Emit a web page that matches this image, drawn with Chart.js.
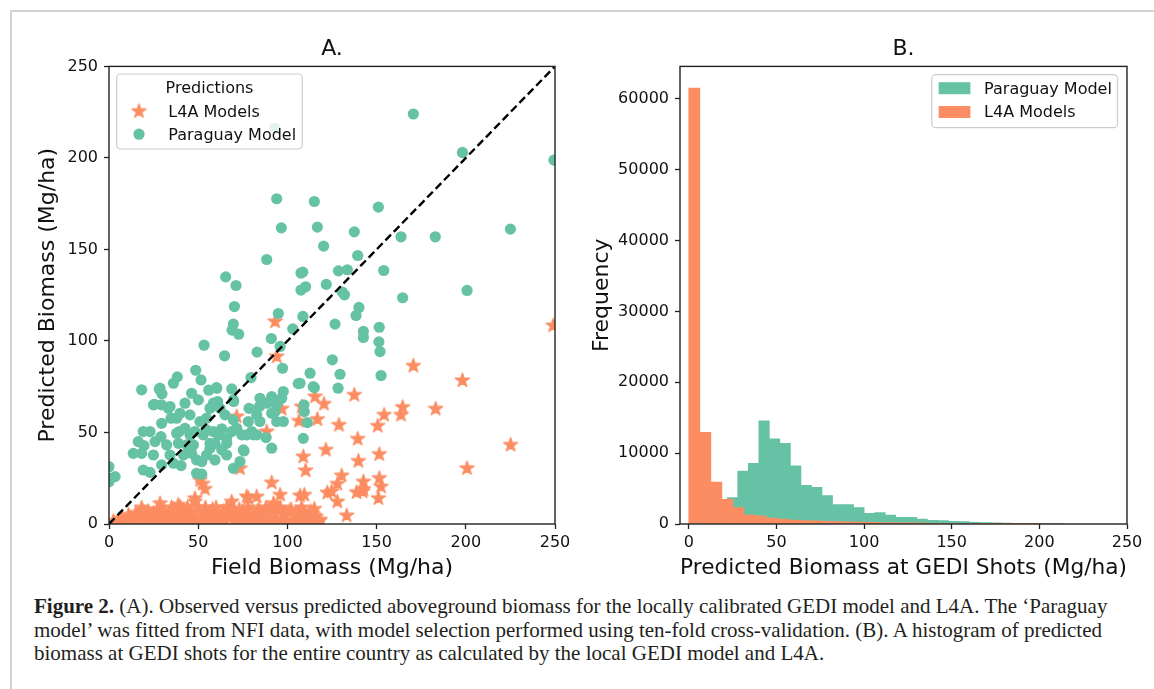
<!DOCTYPE html>
<html>
<head>
<meta charset="utf-8">
<title>Figure 2</title>
<script src="https://cdn.jsdelivr.net/npm/chart.js"></script>
<style>
  html, body { margin: 0; padding: 0; background: #fff; }
  body { width: 1154px; height: 689px; position: relative; overflow: hidden; }
  #frame { position: absolute; left: 10px; top: 10px; width: 1200px; height: 700px;
    border-top: 2px solid #d2d2d2; border-left: 2px solid #d2d2d2; }
  #chartA { position: absolute; left: 0; top: 0; }
  #chartB { position: absolute; left: 577px; top: 0; }
  #caption { position: absolute; left: 34px; top: 595px; font-family: "Liberation Serif", serif;
    font-size: 18px; line-height: 23.5px; color: #231f20; }
  #caption .ln { width: max-content; white-space: nowrap; }
</style>
</head>
<body>
<div id="frame"></div>
<canvas id="chartA" width="577" height="590"></canvas>
<canvas id="chartB" width="577" height="590"></canvas>
<div id="caption">
  <div class="ln" id="ln1"><b>Figure 2.</b> (A). Observed versus predicted aboveground biomass for the locally calibrated GEDI model and L4A. The ‘Paraguay</div>
  <div class="ln">model’ was fitted from NFI data, with model selection performed using ten-fold cross-validation. (B). A histogram of predicted</div>
  <div class="ln">biomass at GEDI shots for the entire country as calculated by the local GEDI model and L4A.</div>
</div>
<script>
// ---- data ----
const ticksA = [0, 50, 100, 150, 200, 250];
const diagonal = [[0, 0], [250, 250]];

// Paraguay model: [field, predicted]
const paraguayPoints = [
  [93,216.3],[170.6,224],[198.1,203],[249.4,198.8],[94,177.7],[115.1,176.2],[151,173.1],[96.6,161.8],
  [116.8,162.2],[137.5,159.6],[163.7,156.9],[182.9,156.9],[225,161.1],[120.3,151.8],[88.4,144.5],[139.4,146.7],
  [65.4,135],[71.2,130.3],[107.6,137.1],[108.6,137.6],[128.6,138.3],[133.6,138.9],[154,138.5],[121.8,130.9],
  [107.6,127.8],[110.2,129.6],[130.8,126.7],[132,125.2],[164.6,123.6],[200.7,127.6],[70.3,118.8],[94.9,115],
  [140.1,118.3],[138.5,113.9],[108.7,113.4],[69.7,109.2],[69,105.9],[72.7,103.7],[126.7,109.2],[103,106.6],
  [142.6,105.2],[142.6,101.9],[151.5,107.5],[151.3,99.5],[151.9,94.2],[91,101.3],[95.9,97],[53.3,97.7],
  [64.8,91.9],[83,93.9],[97.3,85.1],[125.2,89.7],[152.5,81.1],[129.5,81.8],[112.7,82.4],[106.1,76.7],
  [115.1,74.5],[128.4,74.2],[48.6,84],[38.3,80.4],[36.1,76.9],[18.3,73.3],[28.2,73.6],[29.7,71.1],
  [51.6,78.7],[55.9,73.1],[60.2,74.5],[68.8,73.8],[46.3,71.4],[50.1,67.8],[42.6,66],[25.4,65.4],
  [34.2,64.2],[60.9,66.9],[69.9,66.9],[79.6,80],[78.5,63.2],[84.6,68.7],[91.2,69.6],[97.7,72.4],
  [84.3,64.2],[88.4,66],[94,65.1],[96.8,68.7],[109.3,65.1],[109.5,61.4],[111.2,55.4],[108.9,46.8],
  [94,56],[97.7,56],[78.1,56],[82.8,48.7],[88,47.2],[91.2,41.4],[75.7,39.9],[73.4,34.1],
  [69.7,30.4],[49.1,27.7],[52,27.2],[40.4,31.9],[19.2,29.5],[23,28.2],[13.6,38.6],[18.3,38.6],
  [23,50.5],[19.6,42.8],[25.8,45],[29.5,55],[29.1,47.7],[32.3,43.2],[34.2,37.7],[36.1,33.2],
  [38.9,44.1],[39.4,50.5],[34.8,57.8],[29.5,65.1],[24.9,65.1],[33.3,63.2],[37.9,57.8],[42.6,52.3],
  [45.4,48.7],[47.3,43.2],[46.3,38.6],[49.1,35],[52,34.1],[54.7,37.7],[56.6,41.4],[59.4,44.1],
  [61.3,48.7],[58.5,50.5],[52.8,48.7],[48.2,50.5],[51,56],[54.7,57.8],[45.4,59.6],[39.8,60.5],
  [63.2,52],[65.9,46.8],[68.8,50.5],[71.6,52.3],[74.4,48.7],[77.2,48.7],[65,59.6],[69.7,56.9],
  [62.2,63.2],[56.6,63.2],[54.7,51.4],[0,31.3],[0.6,25],[3.4,25.9],[0,23.1],[19.2,50.5],
  [16.4,45],[24.9,37.7],[29.5,32.3],[41.7,37.7],[43.5,43.2],[37.9,49.6],[59.4,35],[63.2,40.5],
  [65.9,37.7],[80,50.5],[82.8,59.6],[84.6,56],[91.2,60.5],[90.2,66.9],[80.9,48.7],[93,61.4],
  [107.1,76.9],[114.5,75],[66,44.1],[56.6,44.1],[75.3,40.5],[69.7,67.8],[58.5,66],[28.6,74.2],[60.4,74.2]
];

// L4A models: [field, predicted]
const l4aPoints = [
  [249,108.4],[93.1,110.6],[94,91.5],[170.6,86.4],[198.1,78.4],[137.5,70.5],[115.5,69.6],[120.5,65.6],
  [164.6,63.8],[163.7,59.6],[154.2,59.6],[183.1,62.9],[150.6,53.6],[116.8,57.2],[106.5,56.3],[128.9,54.1],
  [96.8,62.9],[108,64.1],[71.6,58.7],[88.4,50.5],[139.4,46.5],[121.6,40.5],[108.9,36.8],[151.5,38.1],
  [139.8,34.4],[110.2,29.2],[225.1,43.2],[200.7,30.4],[73.4,30.4],[52.5,21.9],[53.8,19.1],[51,24],
  [91.2,22.6],[130.4,26.4],[128,21.9],[142.6,23.1],[142.6,19],[151.5,25],[152.5,20.4],[138.8,17.3],
  [142.2,17.7],[124.8,17.7],[122.4,17.1],[128,12.2],[133.2,4.6],[151,14],[107.1,15.5],[109.5,15.9],
  [115.1,8.2],[18.3,8.9],[28.6,11.3],[38.8,10.4],[48.2,12.2],[48.2,14],[68.8,12.2],[77.2,15],
  [78.1,14],[82.8,14.9],[95.9,15.9],[92.2,11.3],[39.8,9.5],[36.1,8.2],[2.4,1.6],[118.3,2.2],
  [7,3],[8,0.5],[10,2],[11,5],[12,3],[14,1.5],[15,6],[16,4],[18,2],[19,7],[20,5],[21,1],
  [22,7],[23,3],[24,0.5],[25,6],[26,2],[27,8],[28,4],[29,1],[30,6],[31,7],[32,0.5],[33,3],
  [34,5],[35,9],[36,2],[37,7],[38,0.5],[39,4],[40,1],[41,8],[42,6],[43,3],[44,9],[45,2],
  [46,7],[47,0.5],[48,5],[49,1],[50,9],[51,0.5],[52,3],[53,6],[54,9],[55,2],[56,4],[57,0.5],
  [58,8],[59,1],[60,9],[61,5],[62,3],[63,0.5],[64,7],[65,2],[66,9],[67,4],[68,6],[69,8],
  [70,1],[71,3],[72,0.5],[73,8],[74,5],[75,7],[76,2],[77,4],[78,9],[79,6],[80,1],[81,0.5],
  [82,3],[83,7],[84,8],[85,2],[86,5],[87,0.5],[88,9],[89,1],[90,8],[91,4],[92,6],[93,0.5],
  [94,2],[95,8],[96,9],[97,3],[98,5],[99,0.5],[100,1],[101,7],[102,8],[103,2],[104,4],[105,0.5],
  [106,6],[107,1],[108,9],[109,3],[110,5],[111,0.5],[112,2],[113,7],[114,6],[115,1],[116,4],[117,0.3],[118,2]
];

// histogram B: bin centres and counts
const ticksBx = [0, 50, 100, 150, 200, 250];
const ticksBy = [0, 10000, 20000, 30000, 40000, 50000, 60000];
const binsL4A = [3.15, 9.45, 15.75, 22.05, 28.35, 34.65, 40.95, 47.25, 53.55, 59.85, 66.15, 72.45,
  78.75, 85.05, 91.35, 97.65, 103.95, 110.25, 116.55, 122.85, 129.15, 135.45, 141.75, 148.05,
  154.35, 160.65, 166.95, 173.25, 179.55, 185.85, 192.15, 198.45];
const countsL4A = [61500, 12950, 5900, 3490, 2330, 1300, 1150, 820, 680, 570, 490, 430,
  380, 340, 300, 270, 240, 215, 190, 170, 150, 130, 110, 95,
  80, 65, 55, 45, 35, 28, 20, 15];
const binsParaguay = [12.91, 18.92, 24.93, 30.94, 36.95, 42.96, 48.97, 54.98, 60.99, 67.0, 73.01, 79.02,
  85.03, 91.04, 97.05, 103.06, 109.07, 115.08, 121.09, 127.1, 133.11, 139.12, 145.13, 151.14,
  157.15, 163.16, 169.17, 175.18, 181.19, 187.2, 193.21, 199.22, 205.23, 211.24];
const countsParaguay = [600, 2200, 3710, 7480, 8560, 14540, 12000, 11390, 8190, 5460, 5180, 4000,
  2730, 2730, 2300, 1510, 1600, 1270, 950, 950, 700, 520, 500, 380,
  350, 250, 200, 150, 140, 100, 70, 50, 30, 20];

// ---- styling ----
const green = "#66c2a5";
const orange = "#fc8d62";
const ink = "#111";
Chart.defaults.font.family = '"DejaVu Sans", sans-serif';
Chart.defaults.color = ink;

function makeStar(r, color) {
  const c = document.createElement("canvas");
  const s = Math.ceil(r * 2 + 4);
  c.width = s;
  c.height = s;
  const g = c.getContext("2d");
  g.fillStyle = color;
  g.strokeStyle = color;
  g.lineWidth = 1.3;
  g.lineJoin = "round";
  g.beginPath();
  for (let i = 0; i < 10; i++) {
    const rad = i % 2 ? r * 0.382 : r;
    const a = -Math.PI / 2 + (i * Math.PI) / 5;
    const px = s / 2 + rad * Math.cos(a);
    const py = s / 2 + rad * Math.sin(a);
    if (i) g.lineTo(px, py);
    else g.moveTo(px, py);
  }
  g.closePath();
  g.fill();
  g.stroke();
  return c;
}
const star = makeStar(7.4, orange);

// axes box + matplotlib style legend, drawn over the data
const mplLegend = {
  id: "mplLegend",
  afterDatasetsDraw(chart, args, o) {
    const { ctx, chartArea: a } = chart;
    ctx.save();
    ctx.strokeStyle = "#222";
    ctx.lineWidth = 1.4;
    ctx.strokeRect(a.left, a.top, a.width, a.height);

    const x = o.right !== undefined ? a.right - o.right - o.width : a.left + o.left;
    const y = a.top + o.top;
    ctx.fillStyle = "rgba(255,255,255,0.8)";
    ctx.strokeStyle = "#cccccc";
    ctx.lineWidth = 1.2;
    ctx.beginPath();
    ctx.roundRect(x, y, o.width, o.height, 4);
    ctx.fill();
    ctx.stroke();

    ctx.font = '16px "DejaVu Sans"';
    ctx.textBaseline = "middle";
    ctx.fillStyle = ink;
    if (o.title) {
      ctx.textAlign = "center";
      ctx.fillText(o.title, x + o.width / 2, y + o.titleY + o.textDy);
    }
    ctx.textAlign = "left";
    o.items.forEach((di, i) => {
      const ds = chart.data.datasets[di];
      const cy = y + o.rows[i];
      if (o.patch) {
        ctx.fillStyle = ds.backgroundColor;
        ctx.fillRect(x + o.markerX, cy - 6, 31.7, 12);
      } else if (ds.pointStyle instanceof HTMLCanvasElement) {
        const p = ds.pointStyle;
        ctx.drawImage(p, x + o.markerX - p.width / 2, cy - p.height / 2);
      } else {
        ctx.fillStyle = ds.backgroundColor;
        ctx.beginPath();
        ctx.arc(x + o.markerX, cy, 5.6, 0, Math.PI * 2);
        ctx.fill();
      }
      ctx.fillStyle = ink;
      ctx.fillText(ds.label, x + o.textX, cy + o.textDy);
    });
    ctx.restore();
  },
};

function axis(tickVals, label, opts) {
  return {
    type: "linear",
    min: opts.min,
    max: opts.max,
    offset: false,
    afterBuildTicks: (s) => {
      s.ticks = tickVals.map((v) => ({ value: v }));
    },
    afterFit: (s) => {
      if (opts.width) s.width = opts.width;
      if (opts.height) s.height = opts.height;
    },
    grid: { display: true, offset: false, drawOnChartArea: false, drawTicks: true,
      tickLength: 5, tickWidth: 1.3, color: "#222", tickColor: "#222" },
    border: { display: false },
    ticks: { font: { size: 16 }, color: ink, padding: opts.tickPad, maxRotation: 0,
      autoSkip: false, callback: (v) => String(v) },
    title: { display: true, text: label, font: { size: 22 }, color: ink, padding: opts.titlePad },
  };
}

function titleOpts(text) {
  return { display: true, text, fullSize: false, color: ink,
    font: { size: 22, weight: "normal" }, padding: { top: 36, bottom: 4 } };
}

const xy = (p) => ({ x: p[0], y: p[1] });

new Chart(document.getElementById("chartA"), {
  type: "scatter",
  data: {
    datasets: [
      { label: "L4A Models", data: l4aPoints.map(xy), pointStyle: star, pointRadius: 7,
        pointHoverRadius: 7, backgroundColor: orange, order: 2, clip: 0 },
      { label: "Paraguay Model", data: paraguayPoints.map(xy), backgroundColor: green,
        borderColor: green, borderWidth: 0, pointRadius: 5.6, pointHoverRadius: 5.6, order: 1, clip: 0 },
      { type: "line", label: "1:1", data: diagonal.map(xy), borderColor: "#000", borderWidth: 2.4,
        borderDash: [8, 4], pointRadius: 0, fill: false, order: 0, clip: 0 },
    ],
  },
  options: {
    responsive: false,
    animation: false,
    events: [],
    layout: { padding: { left: 0, right: 22, top: 0, bottom: 0 } },
    plugins: {
      legend: { display: false },
      tooltip: { enabled: false },
      title: titleOpts("A."),
      mplLegend: { left: 7.7, top: 7.6, width: 185.6, height: 75, title: "Predictions",
        titleY: 13, rows: [37.2, 60.2], markerX: 22.3, textX: 51.6, textDy: 1.8, items: [0, 1] },
    },
    scales: {
      x: axis(ticksA, "Field Biomass (Mg/ha)", { min: 0, max: 250, height: 66, tickPad: 4,
        titlePad: { top: 0, bottom: 9 } }),
      y: axis(ticksA, "Predicted Biomass (Mg/ha)", { min: 0, max: 250, width: 109, tickPad: 6,
        titlePad: { top: 35, bottom: 0 } }),
    },
  },
  plugins: [mplLegend],
});

new Chart(document.getElementById("chartB"), {
  type: "bar",
  data: {
    datasets: [
      { label: "Paraguay Model", data: binsParaguay.map((x, i) => ({ x, y: countsParaguay[i] })),
        backgroundColor: green, xAxisID: "x2", order: 1, barPercentage: 1, categoryPercentage: 1,
        grouped: false, borderWidth: 0 },
      { label: "L4A Models", data: binsL4A.map((x, i) => ({ x, y: countsL4A[i] })),
        backgroundColor: orange, xAxisID: "x", order: 0, barPercentage: 1, categoryPercentage: 1,
        grouped: false, borderWidth: 0 },
    ],
  },
  options: {
    responsive: false,
    animation: false,
    events: [],
    layout: { padding: { left: 0, right: 27, top: 0, bottom: 0 } },
    plugins: {
      legend: { display: false },
      tooltip: { enabled: false },
      title: titleOpts("B."),
      mplLegend: { right: 9.5, top: 8.3, width: 185.7, height: 53, rows: [13.5, 37.3],
        markerX: 6.9, textX: 52.3, textDy: 1.3, items: [0, 1], patch: true },
    },
    scales: {
      x: axis(ticksBx, "Predicted Biomass at GEDI Shots (Mg/ha)", { min: -5, max: 250, height: 66,
        tickPad: 4, titlePad: { top: 0, bottom: 9 } }),
      x2: { type: "linear", display: false, min: -5, max: 250, offset: false, grid: { offset: false } },
      y: axis(ticksBy, "Frequency", { min: 0, max: 64560, width: 103, tickPad: 6,
        titlePad: { top: 12, bottom: 0 } }),
    },
  },
  plugins: [mplLegend],
});

// fit the caption so that its first line spans the same width as in the figure
const cap = document.getElementById("caption");
const w1 = document.getElementById("ln1").getBoundingClientRect().width;
cap.style.fontSize = (18 * 1074) / w1 + "px";
</script>
</body>
</html>
